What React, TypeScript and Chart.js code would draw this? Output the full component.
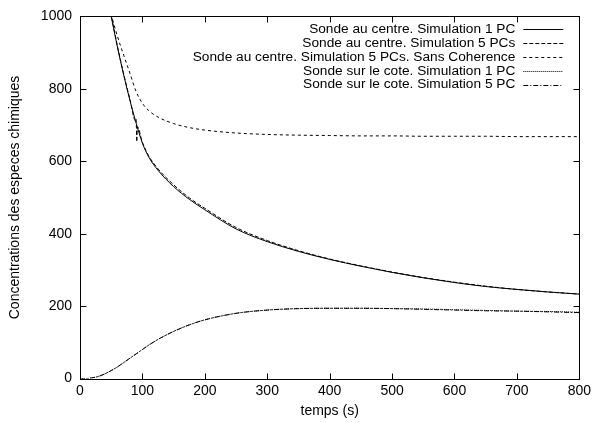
import React, { useEffect, useRef } from "react";
import { Chart, registerables } from "chart.js";

Chart.register(...registerables);

// ---- data ----
const temps = [0, 10, 20, 30, 40, 50, 60, 70, 80, 90, 100, 110, 125, 150, 175, 200, 250, 300, 350, 400, 450, 500, 550, 600, 650, 700, 750, 800];

const centre1PC = [null, null, null, null, 1090, 1000, 915, 838, 768, 705, 650, 612, 575, 530, 495, 466, 413, 378, 351, 329, 310, 293, 278, 265, 254, 246, 239, 233];

const temps5PC = [40, 50, 60, 70, 80, 89, 90, 91, 92, 100, 110, 125, 150, 175, 200, 250, 300, 350, 400, 450, 500, 550, 600, 650, 700, 750, 800];
const centre5PC = [1095, 1004, 918, 841, 771, 711, 716, 654, 695, 652, 615, 579, 535, 499, 470, 417, 381, 353, 330, 311, 294, 279, 266, 255, 246, 239, 233];

const centreSansCoherence = [null, null, null, null, 1105, 1008, 945, 893, 843, 792, 760, 740, 722, 704, 693, 686, 678, 674, 672, 671, 670, 670, 669, 669, 669, 668, 668, 668];

const cote1PC = [0, 0, 2, 6, 13, 22, 32, 44, 56, 68, 80, 92, 108, 130, 148, 162, 180, 189, 193, 194, 194, 193, 192, 190, 188, 186, 185, 183];
const cote5PC = [0, 0, 2, 6, 13, 22, 32, 44, 56, 68, 80, 92, 108, 130, 148, 162, 180, 189, 193, 194, 194, 193, 191, 189, 187, 186, 184, 182];

const seriesLabels = [
  "Sonde au centre. Simulation 1 PC",
  "Sonde au centre. Simulation 5 PCs",
  "Sonde au centre. Simulation 5 PCs. Sans Coherence",
  "Sonde sur le cote. Simulation 1 PC",
  "Sonde sur le cote. Simulation 5 PC",
];

const xTitle = "temps (s)";
const yTitle = "Concentrations des especes chimiques";

const FONT_FAMILY = "'Liberation Sans', Arial, Helvetica, sans-serif";
const FONT_SIZE = 14;
const KEY_FONT_SIZE = 13.7;

function toPoints(xs: number[], ys: (number | null)[]) {
  return xs.map((x, i) => ({ x, y: ys[i] }));
}

const framePlugin = {
  id: "gnuplotFrame",
  afterDatasetsDraw(chart: any) {
    const { ctx, chartArea, scales } = chart;
    const { left, right, top, bottom } = chartArea;
    const L = Math.round(left) + 0.5;
    const R = Math.round(right) + 0.5;
    const T = Math.round(top) + 0.5;
    const B = Math.round(bottom) + 0.5;
    const tl = 6;
    ctx.save();
    ctx.strokeStyle = "#000";
    ctx.lineWidth = 1;
    ctx.setLineDash([]);
    ctx.strokeRect(L, T, R - L, B - T);
    ctx.beginPath();
    scales.x.ticks.forEach((t: any) => {
      const px = Math.round(scales.x.getPixelForValue(t.value)) + 0.5;
      ctx.moveTo(px, B);
      ctx.lineTo(px, B - tl);
      ctx.moveTo(px, T);
      ctx.lineTo(px, T + tl);
    });
    scales.y.ticks.forEach((t: any) => {
      const py = Math.round(scales.y.getPixelForValue(t.value)) + 0.5;
      ctx.moveTo(L, py);
      ctx.lineTo(L + tl, py);
      ctx.moveTo(R, py);
      ctx.lineTo(R - tl, py);
    });
    ctx.stroke();

    // key (legend), gnuplot style: right aligned text, sample on the right
    const sampleRight = right - 16;
    const sampleLen = 40;
    const gap = 8;
    const rowH = 13.8;
    const firstRow = top + 13;
    ctx.font = `${KEY_FONT_SIZE}px ${FONT_FAMILY}`;
    ctx.fillStyle = "#000";
    ctx.textAlign = "right";
    ctx.textBaseline = "middle";
    chart.data.datasets.forEach((ds: any, i: number) => {
      const y = firstRow + i * rowH;
      ctx.fillText(ds.label, sampleRight - sampleLen - gap, y);
      ctx.beginPath();
      ctx.setLineDash(ds.borderDash || []);
      ctx.lineWidth = ds.borderWidth || 1;
      ctx.strokeStyle = ds.borderColor;
      const yy = Math.round(y) + 0.5;
      ctx.moveTo(sampleRight - sampleLen, yy);
      ctx.lineTo(sampleRight, yy);
      ctx.stroke();
    });
    ctx.restore();
  },
};

export default function App() {
  const ref = useRef<HTMLCanvasElement | null>(null);

  useEffect(() => {
    if (!ref.current) return;
    Chart.defaults.font.family = FONT_FAMILY;
    Chart.defaults.font.size = FONT_SIZE;
    Chart.defaults.color = "#000";

    const common = {
      borderColor: "#000",
      borderWidth: 1,
      pointRadius: 0,
      fill: false,
      cubicInterpolationMode: "monotone" as const,
      spanGaps: false,
    };

    const chart = new Chart(ref.current, {
      type: "line",
      data: {
        datasets: [
          { ...common, label: seriesLabels[0], data: toPoints(temps, centre1PC), borderDash: [] },
          { ...common, label: seriesLabels[1], data: toPoints(temps5PC, centre5PC), borderDash: [4, 2] },
          { ...common, label: seriesLabels[2], data: toPoints(temps, centreSansCoherence), borderDash: [3, 3] },
          { ...common, label: seriesLabels[3], data: toPoints(temps, cote1PC), borderDash: [1, 1] },
          { ...common, label: seriesLabels[4], data: toPoints(temps, cote5PC), borderDash: [5, 2, 1, 2] },
        ],
      },
      options: {
        responsive: false,
        animation: false,
        layout: { padding: { left: 0, right: 14, top: 12, bottom: 0 } },
        plugins: {
          legend: { display: false },
          tooltip: { enabled: false },
          title: { display: false },
        },
        scales: {
          x: {
            type: "linear",
            min: 0,
            max: 800,
            ticks: { stepSize: 100, padding: 4, color: "#000", maxRotation: 0, callback: (v: any) => String(v) },
            grid: { display: false, drawTicks: false },
            border: { display: false },
            title: { display: true, text: xTitle, color: "#000", padding: { top: 0, bottom: 3 } },
            afterFit: (s: any) => {
              s.height = 44.5;
            },
          },
          y: {
            type: "linear",
            min: 0,
            max: 1000,
            ticks: { stepSize: 200, padding: 8, color: "#000", callback: (v: any) => String(v) },
            grid: { display: false, drawTicks: false },
            border: { display: false },
            title: { display: true, text: yTitle, color: "#000", padding: { top: 7, bottom: 0 } },
            afterFit: (s: any) => {
              s.width = 80;
            },
          },
        },
      },
      plugins: [framePlugin],
    });
    return () => chart.destroy();
  }, []);

  return (
    <div style={{ position: "absolute", left: 0, top: 0, width: 595, height: 423, background: "#fff" }}>
      <canvas ref={ref} width={595} height={423} />
    </div>
  );
}
